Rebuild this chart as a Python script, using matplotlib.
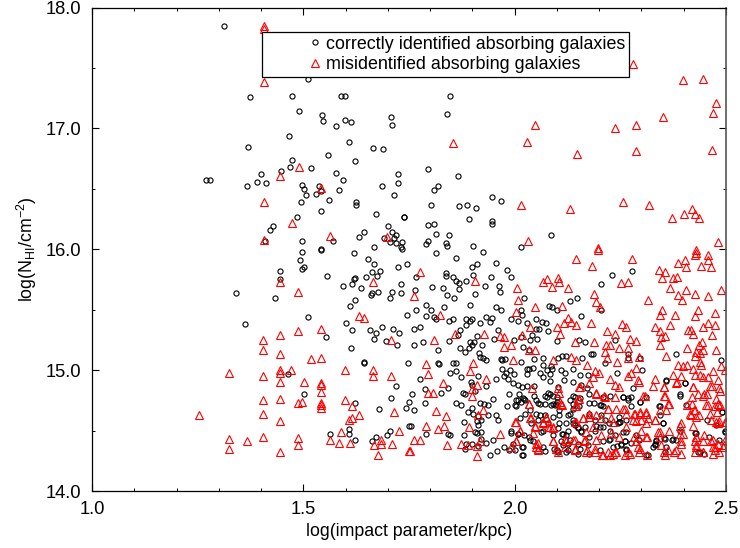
#!/usr/bin/env python3
"""Absorbing galaxies: column density against impact parameter."""

import matplotlib
matplotlib.use('Agg')
import matplotlib.pyplot as plt
import numpy as np
from matplotlib.ticker import MultipleLocator, FormatStrFormatter

# (log impact parameter, log N_HI)
correct_points = [
    (1.312,17.85),(1.269,16.57),(1.280,16.57),(1.366,16.52),(1.390,16.56),(1.401,16.62),(1.411,16.55),(1.370,16.85),
    (1.374,17.26),(1.473,17.27),(1.489,17.14),(1.511,17.41),(1.543,17.11),(1.547,17.06),(1.577,17.02),(1.599,17.07),
    (1.612,17.05),(1.589,17.27),(1.599,17.27),(1.465,16.94),(1.608,16.89),(1.558,16.78),(1.473,16.74),(1.469,16.68),
    (1.446,16.65),(1.519,16.67),(1.622,16.73),(1.578,16.63),(1.593,16.57),(1.585,16.49),(1.497,16.53),(1.501,16.50),
    (1.506,16.45),(1.531,16.46),(1.537,16.52),(1.541,16.48),(1.560,16.41),(1.494,16.39),(1.625,16.39),(1.624,16.37),
    (1.542,16.32),(1.486,16.27),(1.429,16.19),(1.422,16.16),(1.643,16.14),(1.632,16.10),(1.498,16.07),(1.410,16.07),
    (1.570,16.07),(1.541,16.00),
    (1.846,17.27),(1.707,17.09),(1.710,17.03),(1.839,17.12),(1.664,16.84),(1.689,16.83),(1.796,16.66),(1.724,16.62),
    (1.865,16.61),(1.724,16.55),(1.685,16.52),(1.714,16.45),(1.819,16.52),(1.809,16.49),(1.803,16.37),(1.869,16.36),
    (1.888,16.37),(1.909,16.34),(1.946,16.43),(1.967,16.40),(1.673,16.29),(1.738,16.27),(1.739,16.27),(1.893,16.25),
    (1.946,16.23),(1.946,16.21),(1.701,16.19),(1.794,16.20),(1.810,16.21),(1.710,16.14),(1.719,16.12),(1.815,16.13),
    (1.845,16.12),(2.087,16.12),(1.714,16.09),(1.692,16.09),(1.706,16.06),(1.719,16.05),(1.734,16.06),(1.796,16.07),
    (1.791,16.04),(1.837,16.05),(1.841,16.03),(1.902,16.03),(2.016,16.02),(1.667,16.02),(1.730,16.02),(1.733,16.00),
    (1.340,15.64),(1.434,15.60),(1.444,15.82),(1.445,15.75),(1.493,15.91),(1.496,15.84),(1.501,15.85),(1.496,15.98),
    (1.541,15.99),(1.619,15.97),(1.654,15.92),(1.667,15.88),(1.557,15.78),(1.595,15.70),(1.615,15.71),(1.619,15.75),
    (1.622,15.76),(1.636,15.68),(1.649,15.77),(1.662,15.81),(1.674,15.78),(1.682,15.82),(1.725,15.85),(1.745,15.88),
    (1.730,15.71),(1.709,15.65),(1.730,15.64),(1.706,15.60),(1.676,15.65),(1.663,15.64),(1.660,15.62),(1.622,15.58),
    (1.611,15.53),(1.745,15.46),(1.362,15.38),(1.512,15.44),(1.600,15.39),(1.614,15.33),(1.657,15.33),(1.673,15.31),
    (1.686,15.36),(1.712,15.34),(1.726,15.31),(1.667,15.26),(1.696,15.24),(1.722,15.21),(1.554,15.27),(1.612,15.18),
    (1.644,15.07),(1.644,15.06),(1.747,15.06),(1.464,14.97),(1.720,14.87),(1.501,14.80),(1.707,14.77),(1.751,14.74),
    (1.744,14.69),(1.678,14.68),(1.623,14.73),(1.749,14.54),(1.608,14.51),(1.609,14.47),(1.563,14.47),(1.623,14.42),
    (1.662,14.41),(1.672,14.45),(1.697,14.46),(1.706,14.50),
    (1.813,15.97),(1.862,15.93),(1.924,15.98),(1.899,15.85),(1.912,15.88),(1.955,15.89),(1.981,15.83),(1.991,15.77),
    (1.766,15.77),(1.837,15.80),(1.837,15.78),(1.854,15.77),(1.861,15.74),(1.868,15.72),(1.886,15.74),(1.902,15.79),
    (1.945,15.77),(1.805,15.69),(1.831,15.68),(1.869,15.67),(1.929,15.70),(1.962,15.70),(1.966,15.65),(1.764,15.66),
    (1.841,15.62),(1.857,15.60),(1.907,15.63),(2.022,15.60),(2.147,15.60),(2.132,15.57),(2.204,15.71),(2.231,15.79),
    (2.278,15.82),(1.791,15.54),(1.766,15.50),(1.894,15.54),(1.803,15.50),(1.832,15.52),(1.955,15.52),(1.968,15.50),
    (2.081,15.53),(2.089,15.52),(2.099,15.50),(2.204,15.50),(2.014,15.50),(2.017,15.46),(1.791,15.45),(1.810,15.44),
    (1.815,15.42),(1.845,15.41),(1.854,15.42),(1.884,15.42),(1.894,15.41),(1.899,15.42),(1.886,15.37),(1.917,15.39),
    (1.932,15.44),(1.947,15.43),(1.941,15.40),(1.992,15.42),(2.007,15.41),(2.030,15.39),(2.051,15.42),(2.065,15.40),
    (2.073,15.39),(2.157,15.45),(1.761,15.34),(1.776,15.36),(1.870,15.33),(1.961,15.33),(2.051,15.34),(2.057,15.34),
    (2.079,15.32),(1.761,15.21),(1.782,15.23),(1.844,15.24),(1.866,15.29),(1.894,15.23),(1.903,15.23),(1.911,15.28),
    (1.898,15.21),(1.922,15.21),(1.951,15.26),(1.998,15.25),(2.014,15.27),(2.041,15.29),(2.053,15.26),(2.036,15.25),
    (2.101,15.24),(2.152,15.25),(2.167,15.23),(2.238,15.25),(1.892,15.18),(1.870,15.18),(1.819,15.17),(1.882,15.15),
    (2.020,15.19),(2.033,15.17),(1.916,15.14),(1.917,15.11),(1.932,15.08),(1.924,15.10),(1.967,15.09),(1.976,15.09),
    (1.970,15.08),(2.066,15.10),(2.045,15.09),(2.015,15.07),(2.103,15.10),(2.112,15.12),(2.122,15.12),(2.159,15.10),
    (2.181,15.13),(2.186,15.13),(2.267,15.13),(2.267,15.10),(2.296,15.10),(2.381,15.13),(2.487,15.08),(1.818,15.06),
    (1.821,15.05),(1.854,15.06),(1.861,15.06),(1.847,14.98),(1.861,14.99),(1.872,14.94),(1.969,15.01),(1.979,14.98),
    (1.988,15.00),(1.998,14.97),(1.974,14.95),(1.985,14.93),(2.029,15.01),(2.033,15.01),(2.044,15.02),(2.029,14.97),
    (2.066,15.04),(2.086,15.03),(2.089,15.01),(2.059,14.98),(2.067,14.94),(2.077,15.00),(2.083,14.97),(2.109,15.00),
    (2.118,14.98),(2.139,15.01),(2.155,14.96),(2.174,14.96),(2.213,15.06),(2.242,14.98),(2.302,15.00),(2.357,14.92),
    (2.404,14.89),(1.776,14.93),(1.913,14.95),(1.956,14.93),(1.897,14.90),(1.899,14.88),(1.996,14.89),(2.009,14.88),
    (2.018,14.86),(2.029,14.87),(2.045,14.87),(2.083,14.91),(2.138,14.90),(2.158,14.88),(2.116,14.92),(2.103,14.86),
    (2.170,14.85),(1.932,14.87),(1.843,14.85),(1.787,14.84),(1.825,14.81),(1.756,14.80),(1.878,14.81),(1.882,14.80),
    (1.905,14.83),(1.949,14.76),(1.986,14.80),(2.010,14.80),(2.020,14.77),(2.004,14.75),(2.016,14.74),(2.024,14.75),
    (2.045,14.79),(2.050,14.75),(2.055,14.73),(2.071,14.79),(2.077,14.78),(2.083,14.80),(2.099,14.78),(2.099,14.74),
    (2.091,14.72),(2.095,14.71),(2.137,14.79),(2.142,14.78),(2.132,14.75),(2.138,14.72),(2.154,14.77),(2.177,14.80),
    (2.177,14.73),(2.188,14.73),(2.205,14.71),(2.209,14.78),(2.225,14.79),(2.256,14.78),(2.268,14.77),(2.296,14.74),
    (2.341,14.70),(2.390,14.79),(1.787,14.73),(1.862,14.73),(1.874,14.71),(1.917,14.73),(1.927,14.72),(1.936,14.71),
    (1.761,14.67),(1.898,14.69),(1.982,14.70),(2.003,14.70),(1.889,14.65),(1.902,14.64),(1.936,14.63),(1.955,14.63),
    (1.914,14.62),(1.921,14.59),(1.880,14.57),(1.910,14.58),(1.961,14.59),(1.914,14.55),(1.906,14.49),(1.910,14.48),
    (1.921,14.49),(1.843,14.47),(1.847,14.46),(1.790,14.47),(1.880,14.46),(1.754,14.54),(1.884,14.39),(1.882,14.35),
    (1.898,14.39),(1.914,14.37),(1.921,14.43),(1.933,14.40),(1.949,14.42),(1.941,14.30),(1.958,14.33),(1.974,14.36),
    (1.987,14.34),(2.000,14.34),(2.018,14.36),(2.017,14.30),(1.992,14.48),(2.008,14.47),(2.036,14.42),(2.063,14.49),
    (2.071,14.33),(2.024,14.64),(2.036,14.67),(2.050,14.64),(2.055,14.59),(2.071,14.63),(2.079,14.56),(2.091,14.61),
    (2.103,14.52),(2.111,14.47),(2.122,14.56),(2.138,14.59),(2.142,14.55),(2.150,14.52),(2.158,14.49),(2.166,14.53),
    (2.122,14.46),(2.130,14.42),(2.114,14.38),(2.099,14.34),(2.126,14.34),(2.150,14.31),(2.154,14.35),(2.174,14.38),
    (2.189,14.59),(2.205,14.63),(2.213,14.59),(2.193,14.54),(2.209,14.53),(2.225,14.50),(2.244,14.56),(2.237,14.46),
    (2.256,14.49),(2.264,14.59),(2.260,14.41),(2.252,14.38),(2.209,14.41),(2.225,14.43),(2.201,14.34),(2.241,14.37),
    (2.264,14.34),(2.288,14.46),(2.331,14.39),(2.335,14.42),(2.327,14.36),(2.355,14.43),(2.359,14.36),(2.355,14.32),
    (2.311,14.30),(2.375,14.43),(2.382,14.42),(2.351,14.56),(2.390,14.50),(2.426,14.48),(2.449,14.31),(2.438,14.32),
    (2.497,14.49),(2.491,14.65),(2.248,14.57),(2.276,14.70),
    # dense lower right corner, second reading
    (2.000,14.71),(2.008,14.75),(2.023,14.76),(2.059,14.72),(2.071,14.72),(2.087,14.71),(2.098,14.72),(2.090,14.79),
    (2.079,14.81),(2.106,14.67),(2.130,14.64),(2.138,14.68),(2.153,14.70),(2.177,14.64),(2.201,14.71),(2.209,14.70),
    (2.059,14.63),(2.106,14.63),(2.126,14.63),(2.012,14.60),(2.039,14.56),(1.992,14.50),(2.008,14.47),(2.023,14.46),
    (2.035,14.45),(2.043,14.41),(2.067,14.50),(2.106,14.56),(2.114,14.47),(2.126,14.50),(2.138,14.56),(2.150,14.53),
    (2.157,14.50),(2.189,14.50),(2.177,14.45),(2.150,14.39),(2.126,14.39),(2.094,14.35),(2.102,14.32),(2.067,14.36),
    (2.020,14.36),(1.996,14.39),(2.090,14.46),(2.110,14.41),(2.201,14.53),(2.224,14.42),(2.177,14.31),(2.122,14.32),
    (2.232,14.36),(2.020,14.30),(2.224,14.56),(2.248,14.61),
    (2.280,14.85),(2.358,14.91),(2.404,14.89),(2.390,14.80),(2.311,14.78),(2.276,14.78),(2.268,14.75),(2.256,14.78),
    (2.297,14.74),(2.343,14.70),(2.343,14.63),(2.406,14.71),(2.454,14.59),(2.350,14.56),(2.477,14.55),(2.491,14.65),
    (2.498,14.50),(2.250,14.57),(2.264,14.49),(2.428,14.48),(2.260,14.41),(2.252,14.39),(2.276,14.40),(2.264,14.35),
    (2.295,14.42),(2.331,14.38),(2.315,14.30),(2.354,14.44),(2.372,14.42),(2.483,14.42),(2.459,14.45),(2.433,14.32),
    (2.335,14.41),
]

misid_points = [
    (1.406,17.85),(1.406,17.82),(1.406,17.38),(1.489,16.68),(1.445,16.61),(1.541,16.51),(1.406,16.39),(1.474,16.22),
    (1.563,16.11),(1.406,16.08),
    (2.281,17.53),(2.399,17.40),(2.446,17.41),(2.477,17.21),(2.469,17.13),(2.352,17.09),(2.237,17.00),(2.286,17.03),
    (2.047,17.03),(2.029,16.89),(1.853,16.88),(2.147,16.79),(2.287,16.81),(2.468,16.82),(2.016,16.37),(2.131,16.33),
    (2.256,16.39),(2.318,16.37),(2.373,16.26),(2.400,16.29),(2.420,16.33),(2.427,16.29),(2.437,16.26),(2.482,16.06),
    (2.031,16.07),(1.698,16.10),(2.196,16.01),(2.428,15.99),
    (1.252,14.63),(1.324,14.98),(1.324,14.43),(1.324,14.35),(1.366,14.41),(1.405,15.25),(1.405,15.17),(1.405,14.95),
    (1.405,14.75),(1.405,14.64),(1.405,14.45),(1.444,15.73),(1.444,15.29),(1.444,15.13),(1.444,15.00),(1.444,14.98),
    (1.444,14.90),(1.444,14.76),(1.444,14.58),(1.444,14.32),(1.470,15.00),(1.488,15.65),(1.488,15.32),(1.488,14.73),
    (1.496,14.74),(1.488,14.44),(1.488,14.38),(1.501,14.90),(1.519,15.09),(1.541,15.10),(1.541,15.34),(1.541,14.89),
    (1.541,14.88),(1.541,14.82),(1.541,14.73),(1.541,14.71),(1.541,14.69),(1.563,14.42),(1.585,14.40),(1.590,14.49),
    (1.598,15.00),(1.598,14.75),(1.615,14.70),(1.632,14.63),(1.608,14.59),(1.616,14.60),(1.611,14.40),(1.631,15.45),
    (1.643,15.43),(1.666,15.73),(1.666,15.00),(1.666,14.95),(1.667,14.38),(1.684,14.42),(1.684,14.39),(1.676,14.30),
    (1.707,15.25),(1.707,14.95),(1.709,14.39),(1.714,14.65),(1.727,14.50),(1.750,14.33),
    (1.776,15.81),(1.761,15.61),(1.906,15.74),(2.006,15.68),(2.009,15.58),(2.004,15.48),(2.047,15.52),(1.824,15.46),
    (2.037,15.36),(2.018,15.29),(1.860,15.30),(1.927,15.30),(1.965,15.28),(1.975,15.27),(1.975,15.19),(1.991,15.21),
    (1.809,15.25),(2.033,15.17),(2.047,15.17),(1.995,15.08),(1.791,15.05),(1.901,15.06),(1.894,14.99),(1.795,14.97),
    (1.831,14.89),(1.931,14.93),(1.910,14.88),(1.899,14.84),(1.899,14.79),(1.795,14.81),(1.807,14.81),(1.814,14.66),
    (1.837,14.62),(1.791,14.54),(1.833,14.54),(1.819,14.51),(1.763,14.42),(1.776,14.42),(1.752,14.33),(1.841,14.38),
    (1.874,14.39),(1.890,14.38),(1.910,14.29),(1.912,14.37),(1.917,14.41),(1.891,14.53),(1.914,14.63),(1.924,14.67),
    (1.966,14.47),(2.004,14.57),(2.012,14.50),(1.992,14.36),(2.004,14.41),(2.037,14.60),(2.033,14.72),(2.041,14.85),
    (2.047,14.53),(2.055,14.40),(2.051,14.36),(2.055,14.34),(2.044,14.48),(2.067,14.57),(2.075,14.60),(2.079,14.53),
    (2.091,14.52),(2.091,14.41),(2.097,14.35),(2.111,14.71),(2.107,14.74),(2.142,14.57),(2.144,14.70),(2.150,14.76),
    (2.154,14.86),(2.193,14.80),(2.211,14.79),(2.225,14.93),(2.238,14.88),(2.246,14.86),(2.221,14.68),(2.238,14.78),
    (2.256,14.68),(2.264,14.64),(2.268,14.95),(2.276,14.98),(2.292,14.92),(2.288,15.02),(2.308,14.79),(2.331,14.93),
    (2.353,14.86),(2.356,14.79),(2.364,14.72),(2.357,14.67),(2.343,14.67),(2.375,14.96),(2.383,14.90),(2.394,14.95),
    (2.387,15.04),(2.398,15.03),(2.408,15.04),(2.422,14.86),(2.420,14.72),(2.408,14.71),(2.414,14.64),(2.426,14.67),
    (2.430,14.61),(2.449,14.80),(2.434,14.80),(2.477,14.76),(2.481,14.72),(2.475,14.70),(2.485,14.71),(2.479,14.65),
    (2.465,14.59),(2.453,14.71),(2.422,15.01),(2.441,15.04),(2.426,14.96),(2.438,14.96),(2.445,14.94),(2.457,14.94),
    (2.467,14.87),(2.485,14.83),(2.481,14.92),(2.469,14.99),(2.489,15.03),(2.497,15.00),(2.477,15.17),(2.467,15.29),
    (2.475,15.37),(2.458,15.39),(2.445,15.36),(2.410,15.33),(2.418,15.33),(2.422,15.30),(2.367,15.37),(2.345,15.32),
    (2.355,15.28),(2.347,15.27),(2.343,15.21),(2.331,15.36),(2.380,15.46),(2.349,15.50),(2.343,15.46),(2.315,15.58),
    (2.367,15.68),(2.341,15.83),(2.355,15.81),(2.349,15.76),(2.375,15.76),(2.385,15.77),(2.386,15.62),(2.396,15.58),
    (2.406,15.66),(2.427,15.63),(2.457,15.61),(2.489,15.66),(2.475,15.47),(2.434,15.50),(2.427,15.45),(2.386,15.89),
    (2.402,15.91),(2.406,15.85),(2.426,15.95),(2.430,15.97),(2.457,15.95),(2.457,15.91),(2.440,15.86),(2.465,15.85),
    (2.278,15.92),(2.251,15.72),(2.268,15.73),(2.197,15.99),(2.144,15.92),(2.183,15.86),(2.067,15.73),(2.077,15.75),
    (2.088,15.69),(2.103,15.76),(2.104,15.73),(2.126,15.68),(2.188,15.63),(2.192,15.56),(2.201,15.52),(2.113,15.53),
    (2.101,15.36),(2.107,15.30),(2.117,15.39),(2.126,15.43),(2.133,15.40),(2.144,15.37),(2.181,15.39),(2.219,15.32),
    (2.237,15.30),(2.254,15.38),(2.264,15.36),(2.274,15.26),(2.286,15.24),(2.142,15.23),(2.188,15.23),(2.215,15.21),
    (2.225,15.21),(2.213,15.15),(2.248,15.18),(2.268,15.18),(2.219,15.10),(2.241,15.07),(2.268,15.10),(2.293,15.11),
    (2.133,15.11),(2.146,15.08),(2.091,15.08),(2.171,15.04),(2.189,14.99),(2.199,14.98),(2.185,14.94),(2.359,15.12),
    (2.408,15.18),(2.436,15.21),(2.444,15.23),(2.428,15.15),(2.438,15.14),(2.445,15.17),(2.438,15.07),(2.426,15.12),
    (2.497,14.57),(2.477,14.57),(2.422,14.54),(2.430,14.45),(2.426,14.41),(2.430,14.36),(2.426,14.32),(2.445,14.41),
    (2.445,14.32),(2.465,14.41),(2.469,14.36),(2.473,14.34),(2.481,14.39),(2.493,14.36),(2.497,14.42),(2.481,14.56),
    (2.394,14.56),(2.390,14.47),(2.394,14.41),(2.394,14.31),(2.382,14.34),(2.363,14.34),(2.355,14.30),(2.339,14.49),
    (2.343,14.45),(2.331,14.59),(2.311,14.56),(2.300,14.59),(2.311,14.64),(2.296,14.64),(2.284,14.64),(2.280,14.59),
    (2.292,14.45),(2.288,14.41),(2.296,14.35),(2.313,14.45),(2.313,14.30),(2.272,14.31),(2.260,14.30),(2.233,14.31),
    (2.225,14.30),(2.237,14.32),(2.207,14.30),(2.189,14.32),(2.170,14.34),(2.166,14.42),(2.162,14.60),(2.177,14.64),
    (2.193,14.63),(2.233,14.57),(2.229,14.48),(2.205,14.46),(2.193,14.42),(2.248,14.45),(2.264,14.53),(2.138,14.42),
    (2.142,14.34),(2.118,14.36),(2.122,14.41),
    # dense lower right corner, second reading
    (2.293,14.90),(2.327,14.87),(2.354,14.86),(2.382,14.89),(2.421,14.86),(2.354,14.79),(2.303,14.79),(2.362,14.72),
    (2.420,14.78),(2.445,14.79),(2.454,14.80),(2.461,14.87),(2.484,14.85),(2.480,14.72),(2.457,14.71),(2.425,14.67),
    (2.417,14.63),(2.437,14.63),(2.461,14.64),(2.484,14.58),(2.499,14.57),(2.260,14.68),(2.283,14.64),(2.297,14.65),
    (2.311,14.65),(2.315,14.60),(2.287,14.58),(2.331,14.59),(2.366,14.50),(2.390,14.54),(2.398,14.47),(2.343,14.49),
    (2.311,14.45),(2.299,14.50),(2.283,14.45),(2.268,14.32),(2.291,14.36),(2.295,14.32),(2.346,14.38),(2.354,14.32),
    (2.378,14.32),(2.394,14.39),(2.429,14.45),(2.429,14.38),(2.449,14.46),(2.469,14.42),(2.473,14.36),(2.445,14.32),
    (2.469,14.31),(2.496,14.38),(2.484,14.32),
    (2.000,14.57),(2.012,14.50),(2.004,14.41),(2.035,14.72),(2.039,14.60),(2.047,14.54),(2.102,14.85),(2.105,14.81),
    (2.110,14.72),(2.152,14.86),(2.177,14.89),(2.193,14.81),(2.213,14.78),(2.153,14.76),(2.146,14.72),(2.220,14.68),
    (2.240,14.68),(2.075,14.61),(2.067,14.56),(2.083,14.53),(2.090,14.53),(2.146,14.57),(2.161,14.60),(2.177,14.61),
    (2.185,14.53),(2.205,14.60),(2.228,14.60),(2.169,14.49),(2.118,14.43),(2.090,14.41),(2.051,14.39),(2.055,14.35),
    (2.142,14.42),(2.142,14.35),(2.165,14.41),(2.189,14.35),(2.209,14.30),(2.220,14.32),(2.240,14.32),(2.169,14.32),
    (2.102,14.32),
]

correct = np.array(correct_points)
misid = np.array(misid_points)

plt.rcParams['font.family'] = ['Liberation Sans', 'DejaVu Sans']
plt.rcParams['mathtext.default'] = 'regular'

fig = plt.figure(figsize=(7.4, 5.48), dpi=100)
ax = fig.add_axes([92 / 740, 1 - 491 / 548, (726 - 92) / 740, (491 - 7.5) / 548])

ax.plot(correct[:, 0], correct[:, 1], linestyle='none', marker='o', markersize=3.7,
        markerfacecolor='none', markeredgecolor='black', markeredgewidth=0.8,
        label='correctly identified absorbing galaxies')
ax.plot(misid[:, 0], misid[:, 1], linestyle='none', marker='^', markersize=5.2,
        markerfacecolor='none', markeredgecolor='red', markeredgewidth=0.8,
        label='misidentified absorbing galaxies')

ax.set_xlim(1.0, 2.5)
ax.set_ylim(14.0, 18.0)
ax.xaxis.set_major_locator(MultipleLocator(0.5))
ax.xaxis.set_minor_locator(MultipleLocator(0.1))
ax.yaxis.set_major_locator(MultipleLocator(1.0))
ax.yaxis.set_minor_locator(MultipleLocator(0.5))
ax.xaxis.set_major_formatter(FormatStrFormatter('%.1f'))
ax.yaxis.set_major_formatter(FormatStrFormatter('%.1f'))
ax.tick_params(which='major', direction='in', top=True, right=True, length=5, width=0.8,
               labelsize=13.2, pad=7.5)
ax.tick_params(which='minor', direction='in', top=True, right=True, length=2.5, width=0.7)
for spine in ax.spines.values():
    spine.set_linewidth(0.9)
ax.spines['right'].set_linewidth(1.2)
ax.spines['right'].set_color('#555555')

ax.set_xlabel('log(impact parameter/kpc)', fontsize=12.75, labelpad=3)
ax.set_ylabel('log(N$_{HI}$/cm$^{-2}$)', fontsize=12.75, labelpad=5)

legend = ax.legend(loc='upper left', bbox_to_anchor=((262 - 92) / 634, 1 - (32 - 7.5) / 483.5),
                   borderaxespad=0, numpoints=1, fontsize=12.85, fancybox=False, framealpha=1,
                   edgecolor='black', handlelength=5.53, handletextpad=-2.15, borderpad=0.2,
                   labelspacing=0.2)
legend.get_frame().set_linewidth(0.9)

fig.savefig('out.png', dpi=100)
